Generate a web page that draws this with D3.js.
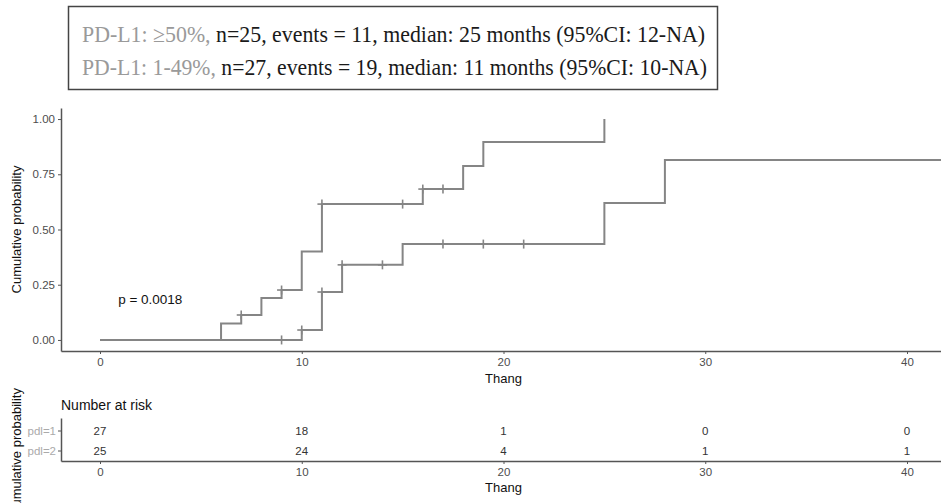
<!DOCTYPE html>
<html>
<head>
<meta charset="utf-8">
<script src="https://cdn.jsdelivr.net/npm/d3@7"></script>
<style>
  body { margin: 0; background: #fff; }
  svg { display: block; }
</style>
</head>
<body>
<div id="wrapper"></div>
<script>
// --- data ---
const legendLines = [
  { group: 'PD-L1: \u226550%,', rest: ' n=25, events = 11, median: 25 months (95%CI: 12-NA)', width: 623 },
  { group: 'PD-L1: 1-49%,', rest: ' n=27, events = 19, median: 11 months (95%CI: 10-NA)', width: 625 },
];

// pdl=1 (1-49%), the upper curve
const pdl1Times = [0, 6, 7, 8, 9, 10, 11, 16, 18, 19, 25];
const pdl1Probs = [0, 0.074, 0.113, 0.19, 0.226, 0.40, 0.615, 0.683, 0.787, 0.896, 1.0];
const pdl1End = 25;
const pdl1CensorTimes = [7, 9, 11, 15, 16, 17];

// pdl=2 (>=50%), the lower curve
const pdl2Times = [0, 10, 11, 12, 15, 25, 28];
const pdl2Probs = [0, 0.045, 0.217, 0.34, 0.434, 0.62, 0.815];
const pdl2End = 44;
const pdl2CensorTimes = [9, 10, 11, 12, 14, 17, 19, 21];

const xTicks = [0, 10, 20, 30, 40];
const yTicks = [0, 0.25, 0.5, 0.75, 1];
const riskGroups = ['pdl=1', 'pdl=2'];
const riskPdl1 = [27, 18, 1, 0, 0];
const riskPdl2 = [25, 24, 4, 1, 1];
const pText = 'p = 0.0018';

// --- layout ---
const W = 941, H = 503;
const panel = { left: 61, right: 941, top: 108, bottom: 351 };
const table = { top: 418, bottom: 461 };
const curveColor = '#858585';
const axisColor = '#555';
const sans = '"Liberation Sans", Arial, sans-serif';

const svg = d3.select('#wrapper').append('svg')
  .attr('width', W).attr('height', H)
  .style('font-family', sans);

// --- scales ---
const xScale = d3.scaleLinear()
  .domain([0, 40])
  .range([100, 907]);
xScale.domain([xScale.invert(panel.left), xScale.invert(panel.right)]).range([panel.left, panel.right]);

const yScale = d3.scaleLinear()
  .domain([-0.05, 1.05])
  .range([panel.bottom, panel.top]);

const rowScale = d3.scalePoint()
  .domain(riskGroups)
  .range([431, 451]);

// --- legend box ---
svg.append('rect')
  .attr('x', 68.5).attr('y', 6.5)
  .attr('width', 649).attr('height', 83)
  .attr('fill', '#fff')
  .attr('stroke', '#444').attr('stroke-width', 1.5);

const legendText = svg.append('g')
  .style('font-family', '"Liberation Serif", "Times New Roman", serif')
  .style('font-size', '22.5px');

legendLines.forEach((d, i) => {
  const t = legendText.append('text')
    .attr('x', 82)
    .attr('y', 42 + i * 33)
    .attr('textLength', d.width)
    .attr('lengthAdjust', 'spacingAndGlyphs');
  t.append('tspan').attr('fill', '#9a9a9a').text(d.group);
  t.append('tspan').attr('fill', '#1a1a1a').text(d.rest);
});

// --- main panel ---
svg.append('clipPath').attr('id', 'clip')
  .append('rect')
  .attr('x', panel.left).attr('y', panel.top - 5)
  .attr('width', panel.right - panel.left).attr('height', panel.bottom - panel.top + 5);

const plot = svg.append('g').attr('clip-path', 'url(#clip)');

const stepLine = d3.line()
  .x((d) => xScale(d[0]))
  .y((d) => yScale(d[1]))
  .curve(d3.curveStepAfter);

function curvePoints(times, probs, end) {
  const pts = times.map((t, i) => [t, probs[i]]);
  pts.push([end, probs[probs.length - 1]]);
  return pts;
}

function probAt(times, probs, t) {
  let p = probs[0];
  times.forEach((tt, i) => { if (tt <= t) p = probs[i]; });
  return p;
}

const curves = [
  { times: pdl1Times, probs: pdl1Probs, end: pdl1End, censor: pdl1CensorTimes },
  { times: pdl2Times, probs: pdl2Probs, end: pdl2End, censor: pdl2CensorTimes },
];

curves.forEach((c) => {
  plot.append('path')
    .datum(curvePoints(c.times, c.probs, c.end))
    .attr('fill', 'none')
    .attr('stroke', curveColor)
    .attr('stroke-width', 2)
    .attr('d', stepLine);

  const marks = plot.append('g')
    .selectAll('g')
    .data(c.censor)
    .join('g')
    .attr('transform', (t) => `translate(${xScale(t)},${yScale(probAt(c.times, c.probs, t))})`);
  marks.append('line').attr('x1', -4.5).attr('x2', 4.5).attr('stroke', curveColor).attr('stroke-width', 1.6);
  marks.append('line').attr('y1', -4.5).attr('y2', 4.5).attr('stroke', curveColor).attr('stroke-width', 1.6);
});

// p value
svg.append('text')
  .attr('x', xScale(0.9))
  .attr('y', yScale(0.165))
  .attr('fill', '#111')
  .style('font-size', '13.5px')
  .text(pText);

// axes
function styleAxis(g) {
  g.select('.domain').attr('stroke', axisColor).attr('stroke-width', 1.5);
  g.selectAll('.tick line').attr('stroke', axisColor).attr('stroke-width', 1);
  g.selectAll('.tick text').attr('fill', '#4d4d4d').style('font-size', '11.5px').style('font-family', sans);
}

const xAxisGen = d3.axisBottom(xScale).tickValues(xTicks).tickSize(3).tickSizeOuter(0).tickPadding(4);
const yAxisGen = d3.axisLeft(yScale).tickValues(yTicks).tickFormat(d3.format('.2f')).tickSize(3).tickSizeOuter(0).tickPadding(3);

svg.append('g')
  .attr('transform', `translate(0,${panel.bottom})`)
  .call(xAxisGen)
  .call(styleAxis);

svg.append('g')
  .attr('transform', `translate(${panel.left},0)`)
  .call(yAxisGen)
  .call(styleAxis);

svg.append('text')
  .attr('x', xScale(20)).attr('y', 383)
  .attr('text-anchor', 'middle')
  .attr('fill', '#111')
  .style('font-size', '13px')
  .text('Thang');

svg.append('text')
  .attr('transform', `translate(21,${(panel.top + panel.bottom) / 2}) rotate(-90)`)
  .attr('text-anchor', 'middle')
  .attr('fill', '#111')
  .style('font-size', '13px')
  .text('Cumulative probability');

// --- risk table ---
svg.append('text')
  .attr('x', panel.left).attr('y', 410)
  .attr('fill', '#111')
  .style('font-size', '14px')
  .text('Number at risk');

const riskRows = [riskPdl1, riskPdl2];
riskGroups.forEach((g, gi) => {
  svg.append('g')
    .selectAll('text')
    .data(riskRows[gi])
    .join('text')
    .attr('x', (d, i) => xScale(xTicks[i]))
    .attr('y', rowScale(g))
    .attr('dy', '0.35em')
    .attr('text-anchor', 'middle')
    .attr('fill', '#333')
    .style('font-size', '11.5px')
    .text((d) => d);
});

const tableX = d3.axisBottom(xScale).tickValues(xTicks).tickSize(3).tickSizeOuter(0).tickPadding(4);
svg.append('g')
  .attr('transform', `translate(0,${table.bottom})`)
  .call(tableX)
  .call(styleAxis);

const tableYScale = d3.scaleLinear().domain([0, 1]).range([table.bottom, table.top]);
svg.append('g')
  .attr('transform', `translate(${panel.left},0)`)
  .call(d3.axisLeft(tableYScale).tickValues([]).tickSizeOuter(0))
  .call(styleAxis);

const rowTicks = svg.append('g').attr('transform', `translate(${panel.left},0)`);
riskGroups.forEach((g) => {
  rowTicks.append('line')
    .attr('x1', -3).attr('x2', 0)
    .attr('y1', rowScale(g)).attr('y2', rowScale(g))
    .attr('stroke', axisColor);
  rowTicks.append('text')
    .attr('x', -5).attr('y', rowScale(g))
    .attr('dy', '0.35em')
    .attr('text-anchor', 'end')
    .attr('fill', '#aaa')
    .style('font-size', '11.5px')
    .text(g);
});

svg.append('text')
  .attr('x', xScale(20)).attr('y', 492)
  .attr('text-anchor', 'middle')
  .attr('fill', '#111')
  .style('font-size', '13px')
  .text('Thang');

// cut at the bottom edge in the reference too
svg.append('text')
  .attr('transform', `translate(21,452) rotate(-90)`)
  .attr('text-anchor', 'middle')
  .attr('fill', '#111')
  .style('font-size', '13px')
  .text('Cumulative probability');
</script>
</body>
</html>
